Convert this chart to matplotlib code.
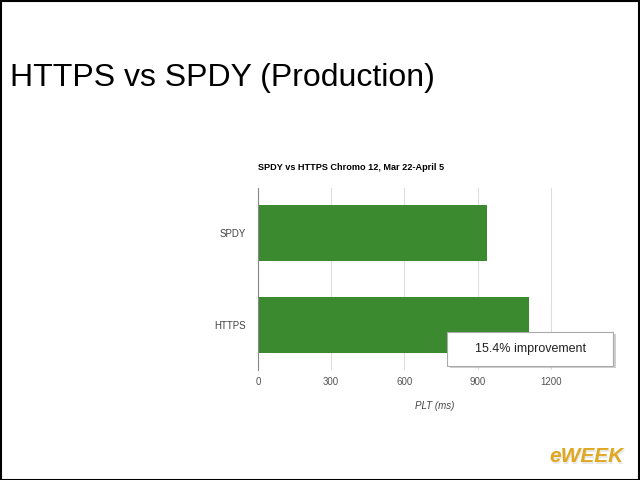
import matplotlib.pyplot as plt
from matplotlib.patches import Rectangle

# Data
categories = ["SPDY", "HTTPS"]
plt_ms = [939, 1110]
ticks = [0, 300, 600, 900, 1200]
note = "15.4% improvement"

plt.rcParams['font.family'] = ['Liberation Sans', 'DejaVu Sans']

fig = plt.figure(figsize=(6.4, 4.8), dpi=100)
fig.patch.set_facecolor('white')

# slide border
fig.add_artist(Rectangle((0.001, 0.001), 0.997, 0.997, transform=fig.transFigure,
                         fill=False, edgecolor='black', linewidth=1.5))

# slide heading
fig.text(10 / 640, 1 - 78 / 480, "HTTPS vs SPDY (Production)", fontsize=23,
         ha='left', va='center', color='black')

ax = fig.add_axes([258 / 640, 110 / 480, 354 / 640, 182 / 480])
ax.barh(range(len(categories)), plt_ms, height=0.61, color='#3b8a2f', zorder=2)
ax.set_ylim(1.49, -0.49)
ax.set_xlim(0, 1450)
ax.set_yticks(range(len(categories)))
ax.set_yticklabels(categories, fontsize=7, color='#444444')
ax.set_xticks(ticks)
ax.set_xticklabels([str(t) for t in ticks], fontsize=7, color='#555555')
ax.tick_params(length=0)
ax.tick_params(axis='x', pad=5)
ax.tick_params(axis='y', pad=9)
ax.grid(axis='x', color='#dddddd', linewidth=0.8, zorder=0)
for s in ['top', 'right', 'bottom']:
    ax.spines[s].set_visible(False)
ax.spines['left'].set_color('#888888')
ax.spines['left'].set_linewidth(0.8)
ax.set_xlabel("PLT (ms)", fontsize=7, style='italic', color='#444444', labelpad=10)

fig.text(258 / 640, 1 - 168 / 480, "SPDY vs HTTPS Chromo 12, Mar 22-April 5",
         fontsize=6.6, fontweight='bold', ha='left', va='center')

# callout box with shadow
fig.add_artist(Rectangle((450 / 640, 1 - 368 / 480), 166 / 640, 34 / 480,
                         transform=fig.transFigure, facecolor='#b0b0b0',
                         edgecolor='none', alpha=0.6, zorder=5))
fig.add_artist(Rectangle((447 / 640, 1 - 366 / 480), 166 / 640, 34 / 480,
                         transform=fig.transFigure, facecolor='white',
                         edgecolor='#aaaaaa', linewidth=0.8, zorder=6))
fig.text(531 / 640, 1 - 349 / 480, note, fontsize=9, ha='center', va='center',
         color='#222222', zorder=7)

# watermark
fig.text(625 / 640, 1 - 458 / 480, "eWEEK", fontsize=15, fontweight='bold',
         style='italic', ha='right', va='center', color='#e8e8e8')
fig.text(624 / 640, 1 - 457 / 480, "eWEEK", fontsize=15, fontweight='bold',
         style='italic', ha='right', va='center', color='#e0a820')

fig.savefig("out.png", dpi=100)
